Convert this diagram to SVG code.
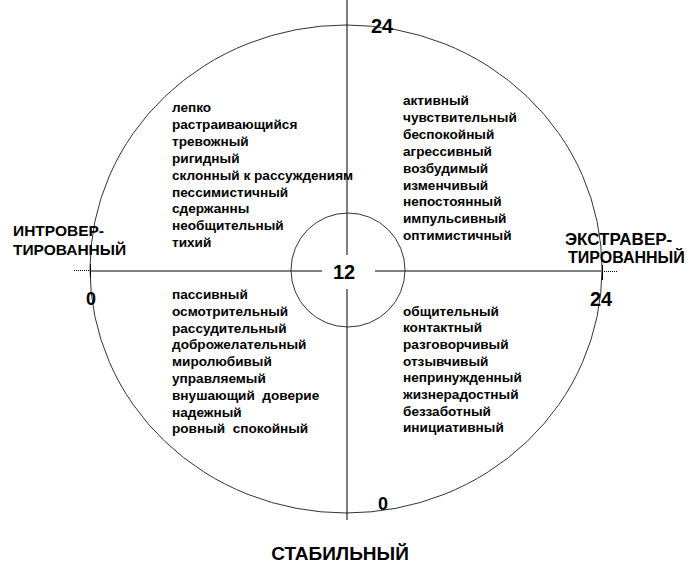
<svg xmlns="http://www.w3.org/2000/svg" width="698" height="570" viewBox="0 0 698 570">
<style>
.t{font-family:"Liberation Sans",Arial,sans-serif;font-weight:bold;font-size:13.6px;fill:#000}
.cap{font-family:"Liberation Sans",Arial,sans-serif;font-weight:bold;font-size:15.5px;fill:#000}
.num{font-family:"Liberation Sans",Arial,sans-serif;font-weight:bold;font-size:20px;fill:#000}
.ax{stroke:#000;stroke-width:1;fill:none}
.gr{stroke:#808080;stroke-width:2;fill:none}
.dot{stroke:#000;stroke-width:1;stroke-dasharray:1 1;fill:none}
</style>
<rect width="698" height="570" fill="#fff"/>
<g id="connectors">
<ellipse class="ax" cx="346" cy="269" rx="256" ry="244" style="stroke:#333"/>
<line class="ax" x1="347" y1="0" x2="347" y2="255"/>
<line class="ax" x1="347" y1="289" x2="347" y2="520"/>
<line class="gr" x1="90" y1="271" x2="322" y2="271"/>
<line class="gr" x1="375" y1="271" x2="602" y2="271"/>
<line class="dot" x1="74" y1="270.5" x2="90" y2="270.5"/>
<line class="dot" x1="602" y1="271.5" x2="618" y2="271.5"/>
<line class="ax" x1="90.5" y1="264" x2="90.5" y2="278"/>
<line class="ax" x1="602.5" y1="265" x2="602.5" y2="280"/>
</g>
<g id="center">
<circle class="ax" cx="348" cy="270" r="57" style="stroke:#333"/>
<text class="num" x="344" y="279" text-anchor="middle">12</text>
</g>
<g id="scale">
<text class="num" x="382" y="33" text-anchor="middle">24</text>
<text class="num" x="383" y="510" text-anchor="middle" style="font-size:18px">0</text>
<text class="num" x="91" y="305" text-anchor="middle" style="font-size:18px">0</text>
<text class="num" x="601" y="306" text-anchor="middle">24</text>
</g>
<g id="introvert">
<text class="cap" x="13" y="236">ИНТРОВЕР-</text>
<text class="cap" x="13" y="255">ТИРОВАННЫЙ</text>
</g>
<g id="extravert">
<text class="cap" x="565" y="245" style="font-size:17px">ЭКСТРАВЕР-</text>
<text class="cap" x="568" y="263" style="font-size:16px">ТИРОВАННЫЙ</text>
</g>
<g id="stable">
<text class="cap" x="340" y="560" text-anchor="middle" style="font-size:19px">СТАБИЛЬНЫЙ</text>
</g>
<g id="q-top-left">
<text class="t" x="172" y="112">лепко</text>
<text class="t" x="172" y="128.9">растраивающийся</text>
<text class="t" x="172" y="145.8">тревожный</text>
<text class="t" x="172" y="162.7">ригидный</text>
<text class="t" x="172" y="179.6">склонный к рассуждениям</text>
<text class="t" x="172" y="196.5">пессимистичный</text>
<text class="t" x="172" y="213.4">сдержанны</text>
<text class="t" x="172" y="230.3">необщительный</text>
<text class="t" x="172" y="247.2">тихий</text>
</g>
<g id="q-top-right">
<text class="t" x="403" y="105">активный</text>
<text class="t" x="403" y="121.9">чувствительный</text>
<text class="t" x="403" y="138.8">беспокойный</text>
<text class="t" x="403" y="155.7">агрессивный</text>
<text class="t" x="403" y="172.6">возбудимый</text>
<text class="t" x="403" y="189.5">изменчивый</text>
<text class="t" x="403" y="206.4">непостоянный</text>
<text class="t" x="403" y="223.3">импульсивный</text>
<text class="t" x="403" y="240.2">оптимистичный</text>
</g>
<g id="q-bottom-left">
<text class="t" x="172" y="299">пассивный</text>
<text class="t" x="172" y="315.8">осмотрительный</text>
<text class="t" x="172" y="332.6">рассудительный</text>
<text class="t" x="172" y="349.4">доброжелательный</text>
<text class="t" x="172" y="366.2">миролюбивый</text>
<text class="t" x="172" y="383">управляемый</text>
<text class="t" x="172" y="399.8" xml:space="preserve">внушающий  доверие</text>
<text class="t" x="172" y="416.6">надежный</text>
<text class="t" x="172" y="433.4" xml:space="preserve">ровный  спокойный</text>
</g>
<g id="q-bottom-right">
<text class="t" x="403" y="315.5">общительный</text>
<text class="t" x="403" y="332.2">контактный</text>
<text class="t" x="403" y="348.9">разговорчивый</text>
<text class="t" x="403" y="365.6">отзывчивый</text>
<text class="t" x="403" y="382.3">непринужденный</text>
<text class="t" x="403" y="399">жизнерадостный</text>
<text class="t" x="403" y="415.7">беззаботный</text>
<text class="t" x="403" y="432.4">инициативный</text>
</g>
</svg>
